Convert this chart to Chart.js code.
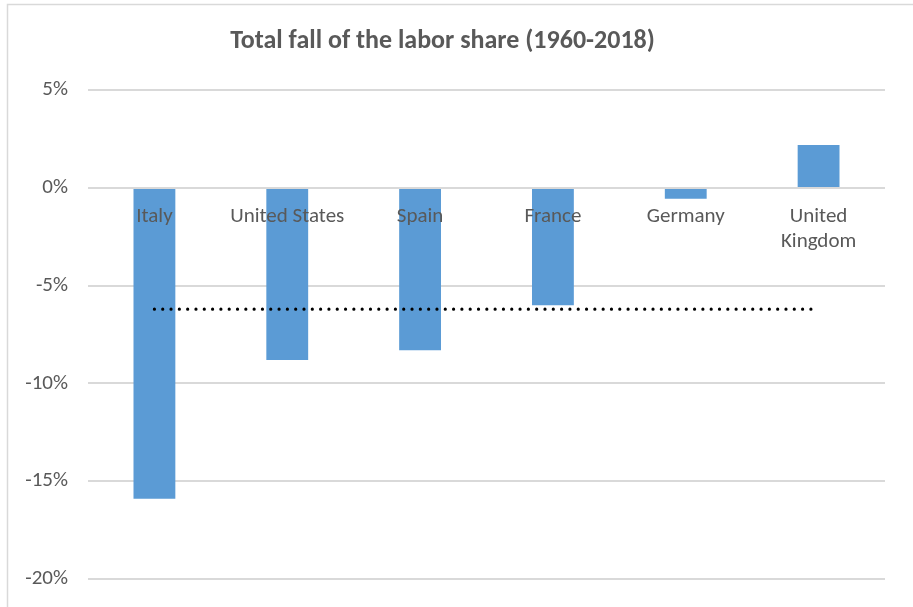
<!DOCTYPE html>
<html>
<head>
<meta charset="utf-8">
<title>Total fall of the labor share (1960-2018)</title>
<script src="https://cdn.jsdelivr.net/npm/chart.js@4/dist/chart.umd.min.js"></script>
<style>
    html, body { margin: 0; padding: 0; background: #fff; }
    #wrap { position: relative; width: 913px; height: 607px; }
</style>
</head>
<body>
<div id="wrap"><canvas id="laborChart"></canvas></div>
<script>
// Dữ liệu biểu đồ
const countries = ['Italy', 'United States', 'Spain', 'France', 'Germany', ['United', 'Kingdom']];
const laborShareChange = [-15.9, -8.8, -8.3, -6.0, -0.55, 2.2];
const averageLine = [-6.2, -6.2, -6.2, -6.2, -6.2, -6.2];
const yTicks = [5, 0, -5, -10, -15, -20];

const textColor = '#595959';
const gridColor = '#d9d9d9';
const fontFamily = "Calibri, Carlito, 'Open Sans', 'Liberation Sans', sans-serif";

// Khung viền mỏng của vùng biểu đồ
const frameBorder = {
    id: 'frameBorder',
    beforeDraw(chart) {
        const ctx = chart.ctx;
        ctx.save();
        ctx.strokeStyle = '#d9d9d9';
        ctx.lineWidth = 1.5;
        ctx.beginPath();
        ctx.moveTo(7.5, chart.height);
        ctx.lineTo(7.5, 4.5);
        ctx.lineTo(chart.width, 4.5);
        ctx.stroke();
        ctx.restore();
    }
};

const config = {
    data: {
        labels: countries,
        datasets: [{
            type: 'line',
            label: 'Average',
            data: averageLine,
            borderColor: '#000',
            borderWidth: 3.2,
            borderDash: [0.01, 8.3],
            borderCapStyle: 'round',
            pointRadius: 0,
            fill: false,
            order: 0
        }, {
            type: 'bar',
            label: 'Labor share change',
            data: laborShareChange,
            backgroundColor: '#5b9bd5',
            categoryPercentage: 1,
            barPercentage: 0.315,
            order: 1
        }]
    },
    options: {
        responsive: false,
        animation: false,
        layout: { padding: { top: 0, right: 28, bottom: 28, left: 0 } },
        plugins: {
            legend: { display: false },
            tooltip: { enabled: false },
            title: {
                display: true,
                text: 'Total fall of the labor share (1960-2018)',
                color: textColor,
                font: { family: fontFamily, size: 26, weight: 'bold', lineHeight: 1.2 },
                padding: { top: 26, bottom: 33 }
            }
        },
        scales: {
            x: {
                position: { y: 0 },
                grid: { display: false, drawTicks: false },
                border: { display: false },
                ticks: {
                    z: 1,
                    color: textColor,
                    font: { family: fontFamily, size: 21 },
                    padding: 16,
                    maxRotation: 0,
                    autoSkip: false
                }
            },
            y: {
                min: -20,
                max: 5,
                afterFit(scale) {
                    // trục y rộng cố định, không chừa thêm khoảng trên/dưới
                    scale.width = 88;
                    scale.paddingTop = 0;
                    scale.paddingBottom = 0;
                },
                afterBuildTicks(scale) {
                    scale.ticks = yTicks.map(v => ({ value: v }));
                },
                grid: { color: gridColor, lineWidth: 2, drawTicks: false },
                border: { display: false },
                ticks: {
                    color: textColor,
                    font: { family: fontFamily, size: 21 },
                    padding: 20,
                    callback: v => v + '%'
                }
            }
        }
    },
    plugins: [frameBorder]
};

const canvas = document.getElementById('laborChart');
canvas.width = 913;
canvas.height = 607;
new Chart(canvas.getContext('2d'), config);
</script>
</body>
</html>
